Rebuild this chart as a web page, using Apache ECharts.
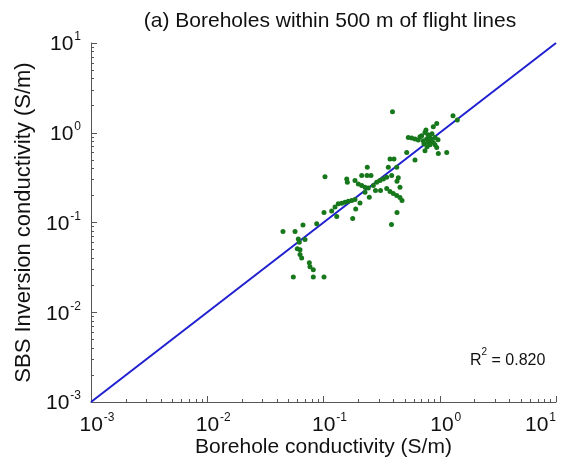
<!DOCTYPE html>
<html>
<head>
<meta charset="utf-8">
<script src="https://cdn.jsdelivr.net/npm/echarts@6/dist/echarts.min.js"></script>
<style>
  html, body { margin: 0; padding: 0; background: #fff; }
  #chart { width: 584px; height: 459px; }
</style>
</head>
<body>
<div id="chart"></div>
<script>
// Borehole conductivity (S/m), x of each sample
const boreholeCond = [
  0.0448, 0.0569, 0.0666, 0.0874, 0.0607, 0.0693, 0.0619, 0.0595, 0.0628, 0.0628,
  0.0649, 0.0755, 0.0765, 0.0817, 0.0550, 0.0817, 0.101, 0.103, 0.101, 0.1176,
  0.130, 0.1256, 0.134, 0.1434, 0.153, 0.1634, 0.1748, 0.1866, 0.1892, 0.206,
  0.1783, 0.238, 0.1584, 0.1603, 0.1866, 0.1992, 0.2131, 0.2275, 0.2429, 0.2131,
  0.2367, 0.2562, 0.2682, 0.2869, 0.3062, 0.3268, 0.3497, 0.386, 0.440, 0.4288,
  0.280, 0.3093, 0.3497, 0.3733, 0.3984, 0.4264, 0.455, 0.4735, 0.4288, 0.3845,
  0.2477, 0.2275, 0.455, 0.3922, 0.942, 0.880, 1.30, 1.416, 0.5363, 0.5738,
  0.6124, 0.654, 0.699, 0.7466, 0.761, 0.722, 0.772, 0.824, 0.853, 0.910,
  0.880, 0.797, 0.910, 0.942, 0.5196, 0.7466, 0.972, 1.148, 0.3733, 0.404,
  0.6124, 0.361, 0.4264, 0.676, 0.792, 0.858, 0.732, 0.824, 0.966, 0.777
];
// SBS inversion conductivity (S/m), y of each sample
const inversionCond = [
  0.0794, 0.0794, 0.0938, 0.0967, 0.0656, 0.0647, 0.0604, 0.0510, 0.0497, 0.0441,
  0.0403, 0.0355, 0.0322, 0.0297, 0.0247, 0.0247, 0.0247, 0.324, 0.129, 0.134,
  0.1166, 0.1487, 0.1613, 0.1638, 0.168, 0.1724, 0.1756, 0.180, 0.1413, 0.1647,
  0.1108, 0.4115, 0.306, 0.2804, 0.293, 0.269, 0.2577, 0.2467, 0.2418, 0.333,
  0.333, 0.333, 0.2577, 0.2804, 0.293, 0.306, 0.3187, 0.333, 0.316, 0.289,
  0.2266, 0.2266, 0.2387, 0.221, 0.210, 0.1995, 0.1896, 0.1756, 0.129, 0.095,
  0.191, 0.2171, 0.2467, 1.711, 1.269, 1.166, 1.545, 1.384, 0.887, 0.873,
  0.851, 0.830, 0.926, 1.008, 1.072, 0.815, 0.851, 0.873, 0.815, 0.887,
  0.780, 0.780, 0.736, 0.687, 0.604, 0.631, 0.589, 0.604, 0.510, 0.510,
  0.497, 0.4115, 0.4115, 0.903, 0.950, 0.975, 0.755, 0.736, 0.836, 0.699
];
// 1:1 reference line end points
const oneToOne = [0.001, 10];
// Axis range and decade ticks
const axisMin = 0.001;
const axisMax = 10;
const minorMultipliers = [2, 3, 4, 5, 6, 7, 8, 9];
const decades = [0.001, 0.01, 0.1, 1];
const rSquared = '0.820';

const minorValues = [];
decades.forEach(d => minorMultipliers.forEach(m => minorValues.push(+(d * m).toPrecision(3))));

const font = 'Arial, "Liberation Sans", sans-serif';
const axisColor = '#555';
const textColor = '#111';

function powerLabel(v) {
  const e = Math.round(Math.log10(v));
  return '{b|10}{s|' + e + '}';
}
function labelRich(padLeft) {
  return {
    b: { fontSize: 21, fontFamily: font, color: textColor, lineHeight: 24, verticalAlign: 'bottom',
         padding: [0, 0, 0, padLeft] },
    s: { fontSize: 12, fontFamily: font, color: textColor, lineHeight: 24, verticalAlign: 'top',
         padding: [0, 0, 0, 1] }
  };
}

function mainAxis(extra) {
  return Object.assign({
    type: 'log', logBase: 10, min: axisMin, max: axisMax,
    axisLine: { show: true, lineStyle: { color: axisColor, width: 1 } },
    axisTick: { show: true, inside: true, length: 6, lineStyle: { color: axisColor } },
    splitLine: { show: false },
    minorTick: { show: false },
    nameMoveOverlap: false,
    nameTextStyle: { fontSize: 21, fontFamily: font, color: textColor }
  }, extra);
}
function minorAxis(extra) {
  return Object.assign({
    type: 'log', logBase: 10, min: axisMin, max: axisMax,
    axisLine: { show: false },
    axisTick: { show: true, inside: true, length: 3, customValues: minorValues, lineStyle: { color: axisColor } },
    axisLabel: { show: false },
    splitLine: { show: false }
  }, extra);
}

const chart = echarts.init(document.getElementById('chart'), null, { renderer: 'canvas' });
chart.setOption({
  animation: false,
  backgroundColor: '#fff',
  title: {
    text: '(a) Boreholes within 500 m of flight lines',
    left: 325, top: 6, textAlign: 'center',
    textStyle: { fontSize: 21, fontWeight: 'normal', fontFamily: font, color: textColor }
  },
  grid: { left: 91, right: 28, top: 43, bottom: 57, outerBoundsMode: 'none', containLabel: false },
  xAxis: [
    mainAxis({
      name: 'Borehole conductivity (S/m)', nameLocation: 'middle', nameGap: 35,
      axisLabel: { formatter: powerLabel, rich: labelRich(12), margin: 10, alignMaxLabel: 'right' }
    }),
    minorAxis({ position: 'bottom' })
  ],
  yAxis: [
    mainAxis({
      name: 'SBS Inversion conductivity (S/m)', nameLocation: 'middle', nameGap: 56,
      nameTextStyle: { fontSize: 22, fontFamily: font, color: textColor },
      axisLabel: { formatter: powerLabel, rich: labelRich(0), margin: 10 }
    }),
    minorAxis({ position: 'left' })
  ],
  series: [
    {
      type: 'line',
      data: oneToOne.map(v => [v, v]),
      symbol: 'none',
      lineStyle: { color: '#2020d0', width: 2 },
      z: 2
    },
    {
      type: 'scatter',
      data: boreholeCond.map((x, i) => [x, inversionCond[i]]),
      symbolSize: 5,
      itemStyle: { color: '#17781b', opacity: 1 },
      z: 3
    }
  ],
  graphic: [{
    type: 'text',
    left: 470, top: 347,
    style: {
      text: '{a|R}{s|2}{a| = ' + rSquared + '}',
      rich: {
        a: { fontSize: 16, fontFamily: font, fill: textColor, lineHeight: 22, verticalAlign: 'bottom' },
        s: { fontSize: 10, fontFamily: font, fill: textColor, lineHeight: 22, verticalAlign: 'top' }
      }
    }
  }]
});
</script>
</body>
</html>
